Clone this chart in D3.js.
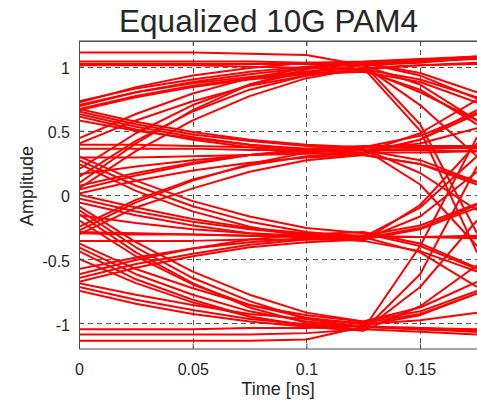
<!DOCTYPE html>
<html><head><meta charset="utf-8">
<script src="https://cdn.jsdelivr.net/npm/d3@7"></script>
<style>
html,body{margin:0;padding:0;background:#fff;}
svg{display:block;font-family:"Liberation Sans",Arial,sans-serif;}
</style></head>
<body>
<svg id="c" width="477" height="400"></svg>
<script>
// ---- data ----
const titleText = "Equalized 10G PAM4";
const xLabel = "Time [ns]";
const yLabel = "Amplitude";
const xTicks = [0, 0.05, 0.1, 0.15];
const yTicks = [-1, -0.5, 0, 0.5, 1];
const timeGrid = [0, 0.025, 0.05, 0.075, 0.1, 0.125, 0.15, 0.175];

// traces ending at the top level (~1.0) near t = 0.125
const tracesTop = [
  [1.11,1.11,1.11,1.10,1.09,1.01,1.03,1.07],
  [1.04,1.04,1.04,1.04,1.03,1.02,1.04,1.06],
  [1.01,1.01,1.01,1.00,0.99,0.98,0.90,0.76],
  [0.70,0.80,0.87,0.92,0.96,0.99,1.01,1.02],
  [0.73,0.83,0.90,0.96,1.00,1.03,0.95,0.80],
  [0.67,0.77,0.85,0.91,0.95,0.97,0.82,0.55],
  [0.69,0.80,0.88,0.94,0.99,1.02,0.55,-0.30],
  [0.40,0.58,0.73,0.85,0.93,0.98,1.01,1.03],
  [0.44,0.63,0.79,0.91,0.99,1.03,0.93,0.75],
  [0.09,0.40,0.66,0.86,0.98,1.03,1.05,1.08],
  [0.14,0.42,0.65,0.82,0.93,0.98,0.80,0.58],
  [0.05,0.34,0.58,0.77,0.91,0.99,0.50,-0.45],
  [1.02,1.02,1.02,1.02,1.02,1.01,0.86,0.58],
  [0.66,0.76,0.84,0.90,0.94,0.96,0.88,0.72],
  [0.72,0.84,0.93,0.99,1.03,1.04,1.06,1.08],
  [0.20,0.48,0.70,0.86,0.96,1.01,0.70,0.30]
];
// traces ending at the upper-middle level (~0.34)
const tracesUpper = [
  [0.63,0.53,0.45,0.39,0.35,0.33,0.33,0.34],
  [0.67,0.57,0.49,0.43,0.39,0.37,0.46,0.64],
  [0.61,0.51,0.43,0.37,0.33,0.31,0.24,0.10],
  [0.65,0.55,0.47,0.42,0.38,0.36,0.08,-0.40],
  [0.36,0.36,0.36,0.35,0.35,0.35,0.35,0.34],
  [0.29,0.29,0.30,0.31,0.32,0.33,0.43,0.63],
  [0.39,0.39,0.38,0.37,0.36,0.35,0.27,0.10],
  [0.04,0.15,0.24,0.31,0.36,0.38,0.38,0.38],
  [0.01,0.11,0.19,0.25,0.29,0.31,0.43,0.66],
  [0.07,0.17,0.25,0.31,0.34,0.36,0.17,-0.12],
  [-0.28,-0.06,0.11,0.24,0.33,0.37,0.37,0.36],
  [-0.25,-0.04,0.12,0.23,0.30,0.33,0.48,0.74],
  [-0.31,-0.10,0.05,0.18,0.27,0.31,0.24,0.08],
  [0.58,0.50,0.44,0.39,0.36,0.35,0.40,0.52],
  [0.16,0.22,0.27,0.31,0.34,0.35,0.36,0.37]
];
// traces ending at the lower-middle level (~-0.33)
const tracesLower = [
  [0.27,0.07,-0.09,-0.21,-0.29,-0.33,-0.33,-0.34],
  [0.24,0.03,-0.13,-0.25,-0.33,-0.36,-0.08,0.40],
  [0.30,0.11,-0.05,-0.17,-0.26,-0.30,-0.40,-0.58],
  [-0.03,-0.13,-0.21,-0.27,-0.31,-0.33,-0.33,-0.32],
  [0.00,-0.10,-0.19,-0.26,-0.30,-0.32,-0.24,-0.07],
  [-0.06,-0.16,-0.24,-0.30,-0.34,-0.36,-0.44,-0.60],
  [-0.30,-0.31,-0.31,-0.32,-0.32,-0.32,-0.33,-0.33],
  [-0.36,-0.36,-0.36,-0.35,-0.35,-0.35,-0.17,0.18],
  [-0.29,-0.30,-0.31,-0.32,-0.33,-0.34,-0.26,-0.08],
  [-0.65,-0.54,-0.46,-0.39,-0.35,-0.33,-0.33,-0.33],
  [-0.68,-0.57,-0.48,-0.41,-0.37,-0.35,-0.27,-0.10],
  [-0.62,-0.51,-0.42,-0.35,-0.31,-0.29,-0.38,-0.57],
  [-0.58,-0.49,-0.42,-0.37,-0.34,-0.33,-0.45,-0.72],
  [-0.16,-0.22,-0.27,-0.30,-0.32,-0.33,-0.10,0.30]
];
// traces ending at the bottom level (~-1.03)
const tracesBottom = [
  [-1.14,-1.14,-1.14,-1.14,-1.13,-1.03,-1.04,-1.07],
  [-1.09,-1.09,-1.09,-1.09,-1.08,-1.05,-1.07,-1.09],
  [-1.05,-1.05,-1.05,-1.04,-1.04,-1.02,-0.94,-0.77],
  [-0.72,-0.82,-0.90,-0.97,-1.01,-1.03,-1.05,-1.07],
  [-0.69,-0.78,-0.86,-0.93,-0.97,-1.00,-0.93,-0.77],
  [-0.75,-0.85,-0.93,-0.99,-1.03,-1.06,-0.87,-0.55],
  [-0.41,-0.62,-0.78,-0.91,-0.99,-1.03,-1.05,-1.06],
  [-0.44,-0.66,-0.82,-0.95,-1.03,-1.06,-0.62,0.22],
  [-0.38,-0.58,-0.73,-0.86,-0.94,-0.99,-0.91,-0.75],
  [-0.12,-0.41,-0.65,-0.83,-0.97,-1.03,-1.04,-1.05],
  [-0.15,-0.45,-0.69,-0.88,-1.00,-1.06,-0.72,-0.20],
  [-0.09,-0.37,-0.60,-0.78,-0.92,-0.99,-0.88,-0.68],
  [-0.50,-0.69,-0.84,-0.95,-1.02,-1.05,-0.40,0.45],
  [-0.20,-0.48,-0.70,-0.86,-0.96,-1.01,-0.98,-0.92]
];

// ---- drawing ----
const svg = d3.select("#c");
const L = 79, R = 477, T = 41, B = 348.5;
const x = d3.scaleLinear().domain([0, 0.175]).range([L, R]);
const y = d3.scaleLinear().domain([-1.2, 1.2]).range([B, T]);
const axisCol = "#4a4a4a", textCol = "#262626";

svg.append("defs").append("clipPath").attr("id","clip")
  .append("rect").attr("x",L).attr("y",T).attr("width",R-L).attr("height",B-T);

// grid
const grid = svg.append("g").attr("stroke","#555").attr("stroke-width",1).attr("stroke-dasharray","5,4");
grid.selectAll(".gx").data(xTicks.filter(d=>d>0)).join("line")
  .attr("x1",d=>Math.round(x(d))+0.5).attr("x2",d=>Math.round(x(d))+0.5)
  .attr("y1",T).attr("y2",B);
grid.selectAll(".gy").data(yTicks).join("line")
  .attr("y1",d=>Math.round(y(d))+0.5).attr("y2",d=>Math.round(y(d))+0.5)
  .attr("x1",L).attr("x2",R);

// traces
const allTraces = [].concat(tracesTop, tracesUpper, tracesLower, tracesBottom);
const line = d3.line().x((d,i)=>x(timeGrid[i])).y(d=>y(d));
svg.append("g").attr("clip-path","url(#clip)")
  .selectAll("path").data(allTraces).join("path")
  .attr("d", line).attr("fill","none").attr("stroke","#ff0000")
  .attr("stroke-width",2).attr("stroke-linejoin","round");

// axes
const fmt = d => String(d);
const xAxis = svg.append("g").attr("transform",`translate(0,${B})`)
  .call(d3.axisBottom(x).tickValues(xTicks).tickFormat(fmt).tickSizeInner(-5).tickSizeOuter(0).tickPadding(15));
const xAxisTop = svg.append("g").attr("transform",`translate(0,${T})`)
  .call(d3.axisTop(x).tickValues(xTicks).tickFormat("").tickSizeInner(-5).tickSizeOuter(0));
const yAxis = svg.append("g").attr("transform",`translate(${L},0)`)
  .call(d3.axisLeft(y).tickValues(yTicks).tickFormat(fmt).tickSizeInner(-5).tickSizeOuter(0).tickPadding(9));
[xAxis, xAxisTop, yAxis].forEach(g=>{
  g.selectAll("path,line").attr("stroke",axisCol);
  g.selectAll("text").attr("fill",textCol).attr("font-size",16)
   .attr("font-family","Liberation Sans, Arial, sans-serif");
});
yAxis.selectAll("text").attr("dy","0.45em");
svg.append("line").attr("x1",L).attr("x2",R).attr("y1",T).attr("y2",T).attr("stroke",axisCol);

// labels
svg.append("text").attr("x",268.5).attr("y",31.5).attr("text-anchor","middle")
  .attr("font-size",31.5).attr("fill",textCol).text(titleText);
svg.append("text").attr("x",278).attr("y",395).attr("text-anchor","middle")
  .attr("font-size",18).attr("fill",textCol).text(xLabel);
svg.append("text").attr("transform","translate(33,186) rotate(-90)").attr("text-anchor","middle")
  .attr("font-size",18).attr("fill",textCol).text(yLabel);
</script>
</body></html>
